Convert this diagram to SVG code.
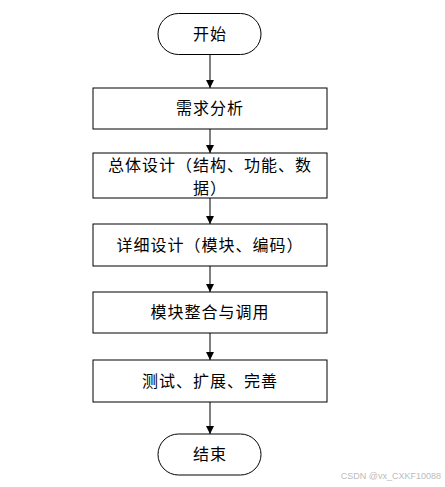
<svg xmlns="http://www.w3.org/2000/svg" width="445" height="487" viewBox="0 0 445 487">
<style>
.shape{fill:#fff;stroke:#000;stroke-width:1}
.t{font-family:"Noto Sans CJK SC","Noto Sans CJK JP",sans-serif;font-size:16px;fill:#000;text-anchor:middle;letter-spacing:1px}
.c{stroke:#000;stroke-width:1;fill:none;marker-end:url(#ah)}
.wm{font-family:"Liberation Sans",Arial,sans-serif;font-size:9px;fill:#bbb}
</style>
<defs>
<marker id="ah" markerWidth="8" markerHeight="10" refX="8" refY="4" orient="auto" markerUnits="userSpaceOnUse" viewBox="0 0 8 8">
<path d="M0,0 L8,4 L0,8 Z" fill="#000"/>
</marker>
</defs>
<rect width="445" height="487" fill="#fff"/>
<g id="connectors">
<line class="c" x1="210" y1="54" x2="210" y2="88"/>
<line class="c" x1="210" y1="129" x2="210" y2="153"/>
<line class="c" x1="210" y1="198" x2="210" y2="224"/>
<line class="c" x1="210" y1="266" x2="210" y2="292"/>
<line class="c" x1="210" y1="333" x2="210" y2="360"/>
<line class="c" x1="210" y1="402" x2="210" y2="434"/>
</g>
<g id="start">
<rect class="shape" x="158" y="13.5" width="103" height="41" rx="20.5"/>
<text class="t" x="210" y="40">开始</text>
</g>
<g id="n1">
<rect class="shape" x="93" y="88" width="234" height="41"/>
<text class="t" x="210" y="114">需求分析</text>
</g>
<g id="n2">
<rect class="shape" x="93" y="153" width="234" height="45"/>
<text class="t" x="210" y="171">总体设计（结构、功能、数</text>
<text class="t" x="210" y="194">据）</text>
</g>
<g id="n3">
<rect class="shape" x="93" y="224" width="234" height="42"/>
<text class="t" x="210" y="251">详细设计（模块、编码）</text>
</g>
<g id="n4">
<rect class="shape" x="93" y="292" width="234" height="41"/>
<text class="t" x="210" y="318">模块整合与调用</text>
</g>
<g id="n5">
<rect class="shape" x="93" y="360" width="234" height="42"/>
<text class="t" x="210" y="387">测试、扩展、完善</text>
</g>
<g id="end">
<rect class="shape" x="158" y="434" width="103" height="41" rx="20.5"/>
<text class="t" x="210" y="460">结束</text>
</g>
<text class="wm" x="441" y="479" text-anchor="end">CSDN @vx_CXKF10088</text>
</svg>
